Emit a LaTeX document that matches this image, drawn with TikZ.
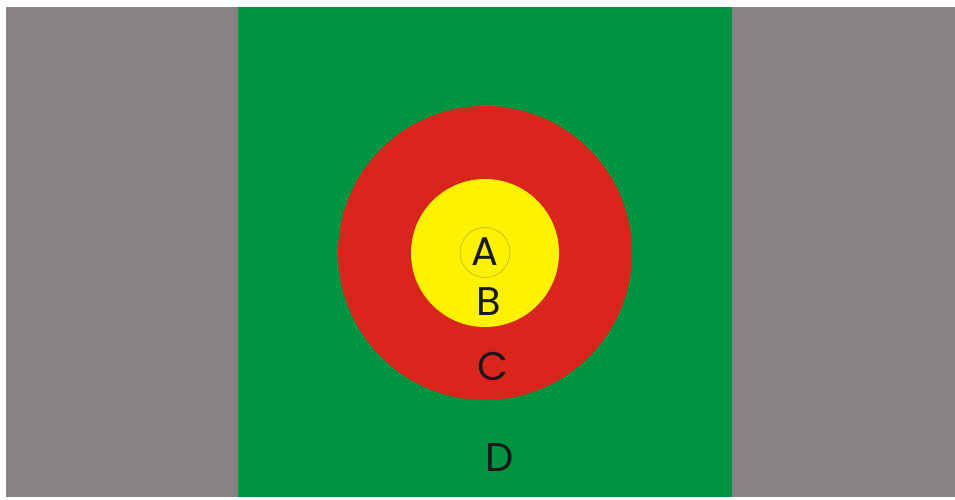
\documentclass[tikz,border=0pt]{standalone}
\usepackage{fontspec}
\usetikzlibrary{positioning}
\newfontfamily\letterfont{Poppins}
\definecolor{side}{HTML}{878283}
\definecolor{field}{HTML}{009340}
\definecolor{ringC}{HTML}{DA251C}
\definecolor{ringB}{HTML}{FFF200}
\definecolor{edge}{HTML}{B5A93A}
\tikzset{zone/.style={circle,inner sep=0pt,outer sep=0pt},letter/.style={inner sep=0pt,font=\letterfont\fontsize{40}{40}\selectfont,text=black!90}}
\begin{document}
\begin{tikzpicture}[x=1pt,y=1pt]
\useasboundingbox (0,0) rectangle (955,499);
\fill[side] (6,2) rectangle (955,492);
\fill[field] (238,2) rectangle (732,492);
\node[zone,fill=ringC,minimum size=294pt] (c) at (485,246) {};
\node[zone,fill=ringB,minimum size=148pt] (b) at (485,246) {};
\node[zone,draw=edge,line width=0.5pt,minimum size=50pt] (a) at (485,246.5) {};
\node[letter] (la) at (485,247) {A};
\node[letter] (lb) at (489,197) {B};
\node[letter] (lc) at (493,133) {C};
\node[letter] (ld) at (500,41) {D};
\end{tikzpicture}
\end{document}
